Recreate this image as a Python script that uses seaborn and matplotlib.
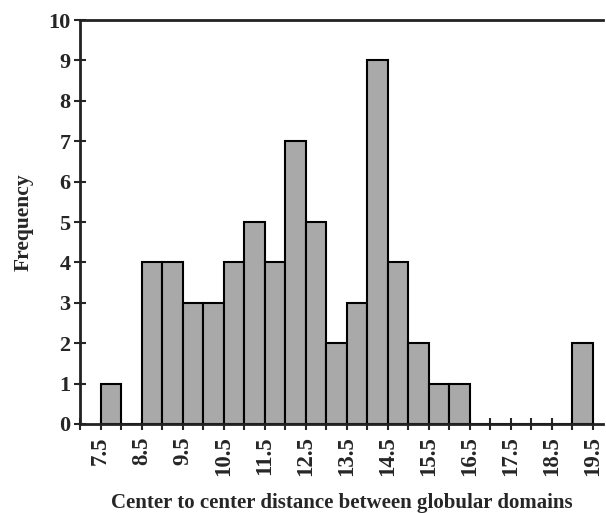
import numpy as np
import matplotlib
matplotlib.use("Agg")
import matplotlib.pyplot as plt
import seaborn as sns

# left edge of each 0.5-wide bin and its count
bin_left = [7.5, 8.0, 8.5, 9.0, 9.5, 10.0, 10.5, 11.0, 11.5, 12.0, 12.5, 13.0,
            13.5, 14.0, 14.5, 15.0, 15.5, 16.0, 16.5, 17.0, 17.5, 18.0, 18.5, 19.0]
counts = [1, 0, 4, 4, 3, 3, 4, 5, 4, 7, 5, 2,
          3, 9, 4, 2, 1, 1, 0, 0, 0, 0, 0, 2]
tick_labels = ["7.5", "8.5", "9.5", "10.5", "11.5", "12.5", "13.5",
               "14.5", "15.5", "16.5", "17.5", "18.5", "19.5"]

sns.set_style("ticks")
plt.rcParams["font.family"] = ["Liberation Serif", "DejaVu Serif"]
plt.rcParams["font.weight"] = "bold"

fig = plt.figure(figsize=(6.06, 5.13), dpi=100)
ax = fig.add_axes([0.132, 0.1735, 0.863, 0.7875])

sns.histplot(x=bin_left, weights=counts, binwidth=0.5, binrange=(7.5, 19.5),
             color="#a9a9a9", edgecolor="black", linewidth=1.5, alpha=1, ax=ax)

ax.set_xlim(7.0, 19.75)
ax.set_ylim(0, 10)
ax.set_yticks(range(0, 11))
ax.set_xticks([float(t) for t in tick_labels])
ax.set_xticklabels(tick_labels, rotation=90, fontsize=16.5, fontweight="bold")
ax.set_xticks(np.arange(7.0, 19.6, 1.0), minor=True)
ax.tick_params(axis="both", which="both", direction="inout", length=8, width=1.5)
ax.tick_params(axis="x", which="major", pad=5)
ax.tick_params(axis="y", labelsize=16, pad=3)
for lbl in ax.get_yticklabels():
    lbl.set_fontweight("bold")

ax.spines["right"].set_visible(False)
for s in ["left", "bottom", "top"]:
    ax.spines[s].set_linewidth(2)
    ax.spines[s].set_color("#222222")

ax.set_xlabel("Center to center distance between globular domains",
              fontsize=15, fontweight="bold", labelpad=12)
ax.set_ylabel("Frequency", fontsize=15.5, fontweight="bold", labelpad=10)

fig.savefig("out.png", dpi=100)
